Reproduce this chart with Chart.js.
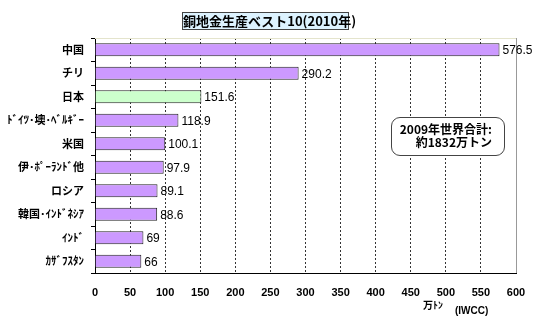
<!DOCTYPE html>
<html>
<head>
<meta charset="utf-8">
<script src="https://cdn.jsdelivr.net/npm/chart.js@4"></script>
<style>
  html, body { margin: 0; padding: 0; background: #fff; }
  #wrap { position: relative; width: 534px; height: 322px; }
  canvas { position: absolute; left: 0; top: 0; }
  .jp { font-family: "Noto Sans CJK JP", sans-serif; font-weight: bold; color: #000; position: absolute; white-space: nowrap; }
  #title { left: 182px; top: 12px; width: 165px; height: 16px; line-height: 16px; font-size: 13px; text-align: center;
           background: #DDF3FF; border: 1px solid #444; }
  #note { left: 391px; top: 117px; width: 112px; height: 37px; border: 1px solid #444; border-radius: 9px; background: #fff;
          font-size: 12px; line-height: 13px; text-align: right; }
  #note div { padding-right: 12px; }
  #unit { left: 423px; top: 297px; font-size: 10px; }
  #src { left: 455px; top: 305px; font-size: 10px; font-family: "Liberation Sans", Arial, sans-serif; }
</style>
</head>
<body>
<div id="wrap">
  <canvas id="c" width="534" height="322"></canvas>
  <div id="title" class="jp">銅地金生産ベスト10(2010年)</div>
  <div id="note" class="jp"><div style="padding-top:4px">2009年世界合計:</div><div>約1832万トン</div></div>
  <div id="unit" class="jp">万ﾄﾝ</div>
  <div id="src" class="jp">(IWCC)</div>
</div>
<script>
const categories = ["中国", "チリ", "日本", "ﾄﾞｲﾂ･墺･ﾍﾞﾙｷﾞｰ", "米国", "伊･ﾎﾟｰﾗﾝﾄﾞ他", "ロシア", "韓国･ｲﾝﾄﾞﾈｼｱ", "ｲﾝﾄﾞ", "ｶｻﾞﾌｽﾀﾝ"];
const production = [576.5, 290.2, 151.6, 118.9, 100.1, 97.9, 89.1, 88.6, 69, 66];
const highlight = "日本";
const xTicks = [0, 50, 100, 150, 200, 250, 300, 350, 400, 450, 500, 550, 600];

const barColors = categories.map(c => c === highlight ? "#CCFFCC" : "#CC99FF");

const valueLabels = {
  id: "valueLabels",
  afterDatasetsDraw(chart) {
    const ctx = chart.ctx;
    const meta = chart.getDatasetMeta(0);
    ctx.save();
    ctx.font = '12px "Liberation Sans Narrow", "Liberation Sans", Arial, sans-serif';
    ctx.fillStyle = "#000";
    ctx.textBaseline = "middle";
    ctx.textAlign = "left";
    meta.data.forEach((bar, i) => {
      ctx.fillText(String(production[i]), bar.x + 3, bar.y + 1);
    });
    ctx.restore();
  }
};

const topLine = {
  id: "topLine",
  beforeDatasetsDraw(chart) {
    const a = chart.chartArea, ctx = chart.ctx;
    ctx.save();
    ctx.strokeStyle = "#e4e4cc";
    ctx.lineWidth = 1;
    ctx.beginPath();
    ctx.moveTo(a.left, a.top + 0.5);
    ctx.lineTo(a.right, a.top + 0.5);
    ctx.stroke();
    ctx.restore();
  }
};

new Chart(document.getElementById("c"), {
  type: "bar",
  data: {
    labels: categories,
    datasets: [{
      data: production,
      backgroundColor: barColors,
      borderColor: "#222",
      borderWidth: 1,
      borderSkipped: "left",
      barPercentage: 0.56,
      categoryPercentage: 1
    }]
  },
  plugins: [valueLabels, topLine],
  options: {
    indexAxis: "y",
    responsive: false,
    animation: false,
    devicePixelRatio: 1,
    layout: { padding: { top: 38, right: 18, left: 0, bottom: 0 } },
    plugins: { legend: { display: false }, title: { display: false }, tooltip: { enabled: false } },
    scales: {
      x: {
        type: "linear",
        min: 0, max: 600,
        afterBuildTicks(scale) { scale.ticks = xTicks.map(v => ({ value: v })); },
        afterFit(scale) { scale.height = 49; scale.paddingRight = 0; scale.paddingLeft = 0; },
        ticks: {
          padding: 13,
          color: "#000",
          font: { family: '"Liberation Sans", Arial, sans-serif', size: 11, weight: "bold" },
          callback: (v) => v
        },
        grid: {
          drawTicks: false,
          color: (c) => (c.tick && c.tick.value === 0) ? "rgba(0,0,0,0)" : (c.tick && c.tick.value === 600 ? "#999" : "#333"),
          lineWidth: 1
        },
        border: {
          display: true, color: "#000", width: 1,
          dash: (c) => (c.tick && c.tick.value === 600) ? [] : [2, 2]
        }
      },
      y: {
        afterFit(scale) { scale.width = 95; scale.paddingTop = 0; scale.paddingBottom = 0; },
        ticks: {
          padding: 7,
          color: "#000",
          font: { family: '"Noto Sans CJK JP", sans-serif', size: 11, weight: "bold" }
        },
        grid: {
          offset: true,
          drawOnChartArea: false,
          drawTicks: true,
          tickLength: 4,
          color: "#000"
        },
        border: { display: true, color: "#000", width: 1 }
      }
    }
  }
});
</script>
</body>
</html>
